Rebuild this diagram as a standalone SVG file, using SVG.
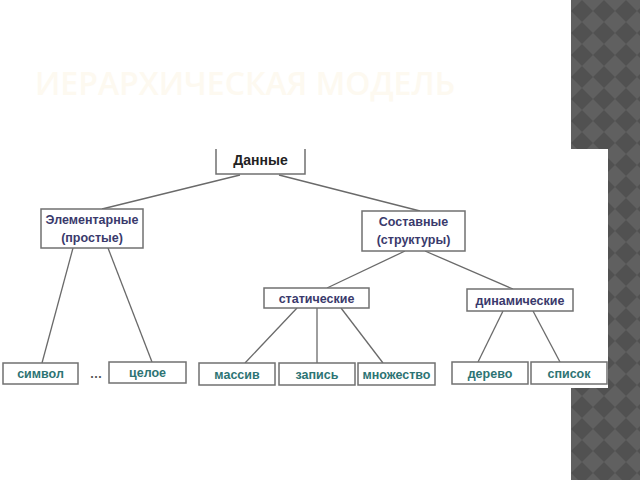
<svg xmlns="http://www.w3.org/2000/svg" width="640" height="480" viewBox="0 0 640 480">
<defs>
<pattern id="chk" x="571" y="0" width="22" height="22" patternUnits="userSpaceOnUse">
<rect width="22" height="22" fill="#606060"/>
<polygon points="11,0 22,11 11,22 0,11" fill="#515151"/>
</pattern>
<style>
.box{fill:#fff;stroke:#707070;stroke-width:1.5}
.t{font-family:"Liberation Sans",Arial,sans-serif;font-size:12.5px;font-weight:bold;text-anchor:middle}
.mid{fill:#3a3a6c}
.leaf{fill:#2d7474}
.top{fill:#222;font-size:14px}
.con{stroke:#6a6a6a;stroke-width:1.3;fill:none}
</style>
</defs>
<rect width="640" height="480" fill="#fff"/>
<rect x="571" y="0" width="69" height="480" fill="url(#chk)"/>
<rect x="0" y="149" width="608" height="239" fill="#fff"/>
<text x="35" y="95" font-family="'Open Sans','Liberation Sans',sans-serif" font-size="32" font-weight="600" fill="#fdf9f0" textLength="420" lengthAdjust="spacingAndGlyphs">ИЕРАРХИЧЕСКАЯ МОДЕЛЬ</text>

<g id="connectors" class="con">
<line x1="240" y1="175" x2="102" y2="209"/>
<line x1="279" y1="175" x2="420" y2="211"/>
<line x1="73" y1="248" x2="42" y2="363"/>
<line x1="108" y1="248" x2="152" y2="362"/>
<line x1="405" y1="251" x2="327" y2="288"/>
<line x1="425" y1="251" x2="513" y2="289"/>
<line x1="297" y1="308" x2="245" y2="363"/>
<line x1="317" y1="308" x2="317" y2="363"/>
<line x1="341" y1="308" x2="383" y2="363"/>
<line x1="503" y1="311" x2="478" y2="362"/>
<line x1="533" y1="311" x2="560" y2="362"/>
</g>

<g id="n-data"><path class="box" d="M216,149 V174 H305 V149"/><text class="t top" x="260.5" y="165">Данные</text></g>
<g id="n-elem"><rect class="box" x="41" y="209" width="102" height="39"/><text class="t mid" x="92" y="224">Элементарные</text><text class="t mid" x="92" y="242">(простые)</text></g>
<g id="n-sost"><rect class="box" x="362" y="211" width="103" height="40"/><text class="t mid" x="413.5" y="226">Составные</text><text class="t mid" x="413.5" y="244">(структуры)</text></g>
<g id="n-stat"><rect class="box" x="264" y="288" width="105" height="20"/><text class="t mid" x="316.5" y="302.5">статические</text></g>
<g id="n-dyn"><rect class="box" x="467" y="289" width="106" height="22"/><text class="t mid" x="520" y="304.5">динамические</text></g>
<g id="n-sym"><rect class="box" x="3" y="363" width="75" height="21"/><text class="t leaf" x="40.5" y="378">символ</text></g>
<g id="n-dots"><text class="t" x="96" y="378" fill="#555">…</text></g>
<g id="n-int"><rect class="box" x="109" y="362" width="77" height="21"/><text class="t leaf" x="147.5" y="377">целое</text></g>
<g id="n-arr"><rect class="box" x="199" y="363" width="76" height="22"/><text class="t leaf" x="237" y="378.5">массив</text></g>
<g id="n-rec"><rect class="box" x="279" y="363" width="76" height="22"/><text class="t leaf" x="317" y="378.5">запись</text></g>
<g id="n-set"><rect class="box" x="358" y="363" width="77" height="22"/><text class="t leaf" x="396.5" y="378.5">множество</text></g>
<g id="n-tree"><rect class="box" x="452" y="362" width="76" height="22"/><text class="t leaf" x="490" y="377.5">дерево</text></g>
<g id="n-list"><rect class="box" x="531" y="362" width="76" height="22"/><text class="t leaf" x="569" y="377.5">список</text></g>
</svg>
